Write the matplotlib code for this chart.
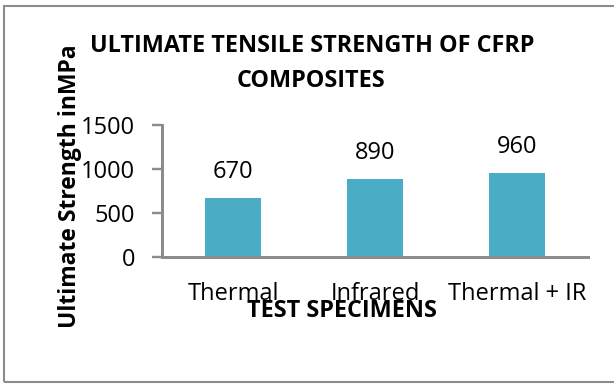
import matplotlib
matplotlib.use("Agg")
import matplotlib.pyplot as plt
from matplotlib.patches import Rectangle

categories = ["Thermal", "Infrared", "Thermal + IR"]
values = [670, 890, 960]
yticks = [0, 500, 1000, 1500]

plt.rcParams['font.family'] = ['Open Sans', 'DejaVu Sans']

W, H = 614, 385
PX = 72 / 100  # points per pixel
fig = plt.figure(figsize=(W/100, H/100), dpi=100)
fig.patch.set_facecolor("white")

# outer border
fig.patches.append(Rectangle((4/W, 3/H), 1.2, (381-5)/H, transform=fig.transFigure,
                             fill=False, edgecolor="#8c8c8c", linewidth=1.5))

x0, x1 = 162, 588
y0, y1 = 257, 125
ax = fig.add_axes([x0/W, 1 - y0/H, (x1-x0)/W, (y0-y1)/H])
pos = list(range(len(categories)))
bars = ax.bar(pos, values, width=0.4, color="#4BACC6")
ax.set_xlim(-0.5, len(categories)-0.5)
ax.set_ylim(0, 1500)
ax.set_yticks(yticks)
ax.set_xticks(pos)
ax.set_xticklabels(categories, fontsize=17)
ax.tick_params(axis='y', labelsize=17, length=10*PX, width=2*PX*1.2, color="#8c8c8c",
               pad=17*PX)
ax.tick_params(axis='x', length=0, pad=43*PX)
for lbl in ax.get_xticklabels():
    lbl.set_va('baseline')
for s in ["top", "right"]:
    ax.spines[s].set_visible(False)
for s in ["left", "bottom"]:
    ax.spines[s].set_color("#8c8c8c")
    ax.spines[s].set_linewidth(3*PX)

for b, v in zip(bars, values):
    ax.annotate(str(v), (b.get_x() + b.get_width()/2, v), xytext=(0, 20*PX),
                textcoords="offset points", ha="center", va="baseline", fontsize=17)

fig.text(312/W, 1 - 52/H, "ULTIMATE TENSILE STRENGTH OF CFRP", ha="center", va="baseline",
         fontsize=16.8, fontweight="bold")
fig.text(311/W, 1 - 87/H, "COMPOSITES", ha="center", va="baseline",
         fontsize=16.8, fontweight="bold")
fig.text(342/W, 1 - 317/H, "TEST SPECIMENS", ha="center", va="baseline",
         fontsize=16.8, fontweight="bold")
fig.text(76/W, 1 - 186.5/H, "Ultimate Strength inMPa", ha="center", va="baseline",
         rotation=90, rotation_mode="anchor", fontsize=16.5, fontweight="bold")

fig.savefig("out.png", dpi=100, facecolor="white")
